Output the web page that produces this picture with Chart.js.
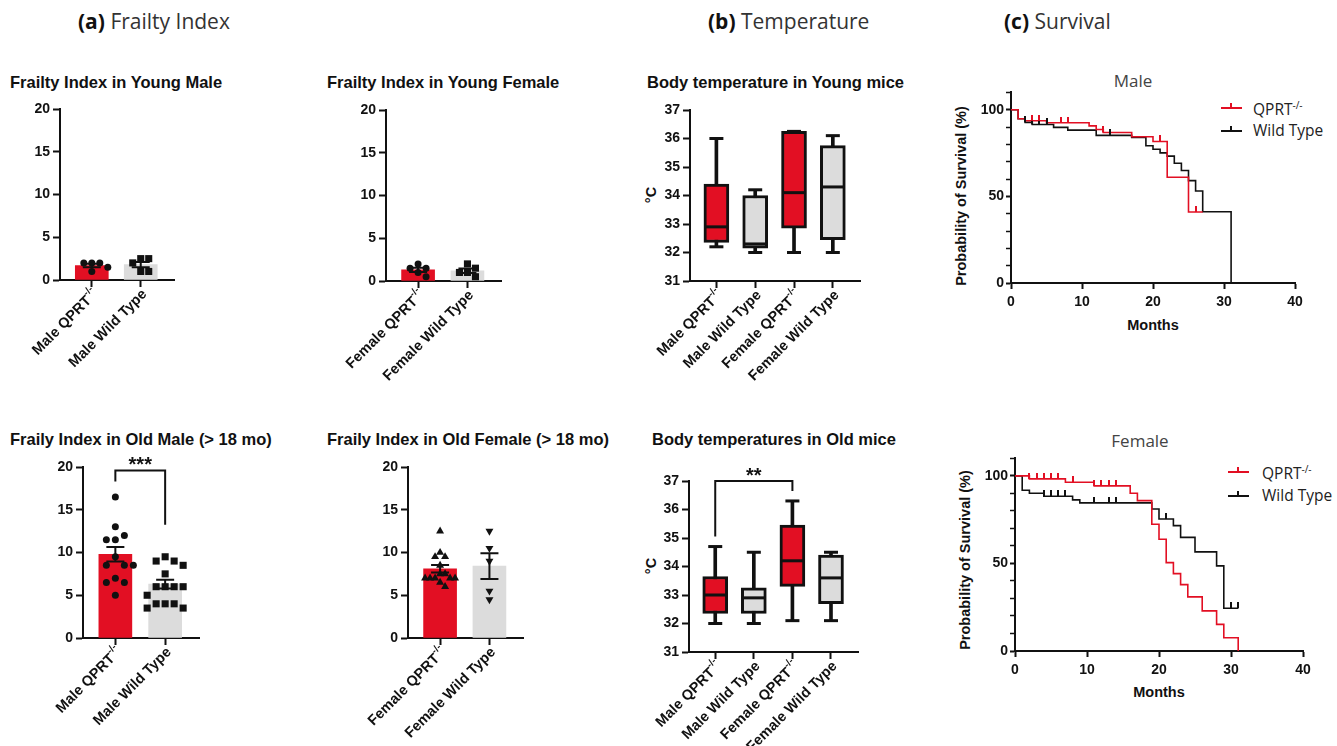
<!DOCTYPE html>
<html>
<head>
<meta charset="utf-8">
<script src="https://cdn.jsdelivr.net/npm/chart.js@4.4.1/dist/chart.umd.min.js"></script>
<style>
  body { margin: 0; background: #fff; }
  #page { position: relative; width: 1337px; height: 746px; overflow: hidden;
          font-family: "Liberation Sans", Arial, sans-serif; color: #111; }
  .abs { position: absolute; white-space: nowrap; line-height: 1; }
  .panel { font-family: "Open Sans", sans-serif; font-size: 21px; color: #333; }
  .panel b { color: #111; }
  .ttl { font-weight: bold; font-size: 16.5px; }
  .stitle { font-family: "Open Sans", sans-serif; font-size: 17px; color: #444; transform: translateX(-50%); }
  .axt { font-weight: bold; font-size: 14.5px; transform: translate(-50%, -50%); }
  .rot { transform: translate(-50%, -50%) rotate(-90deg); }
  .leg { font-family: "Open Sans", sans-serif; font-size: 15.5px; color: #222; }
  .leg sup { font-size: 10px; vertical-align: 6px; }
  .lline { position: absolute; height: 2px; width: 21px; }
  .ltick { position: absolute; width: 2px; height: 5px; }
  canvas { position: absolute; }
</style>
</head>
<body>
<div id="page">
  <div class="abs panel" style="left:78px;top:11px"><b>(a)</b> Frailty Index</div>
  <div class="abs panel" style="left:708px;top:11px"><b>(b)</b> Temperature</div>
  <div class="abs panel" style="left:1004px;top:11px"><b>(c)</b> Survival</div>

  <div class="abs ttl" style="left:10px;top:74px">Frailty Index in Young Male</div>
  <div class="abs ttl" style="left:327px;top:74px">Frailty Index in Young Female</div>
  <div class="abs ttl" style="left:647px;top:74px">Body temperature in Young mice</div>
  <div class="abs ttl" style="left:10px;top:431px">Fraily Index in Old Male (&gt; 18 mo)</div>
  <div class="abs ttl" style="left:327px;top:431px">Fraily Index in Old Female (&gt; 18 mo)</div>
  <div class="abs ttl" style="left:652px;top:431px">Body temperatures in Old mice</div>

  <div class="abs axt rot" style="left:651px;top:195px">°C</div>
  <div class="abs axt rot" style="left:651px;top:566px">°C</div>

  <div class="abs stitle" style="left:1133px;top:72px">Male</div>
  <div class="abs stitle" style="left:1140px;top:432px">Female</div>
  <div class="abs axt rot" style="left:961px;top:196px">Probability of Survival (%)</div>
  <div class="abs axt rot" style="left:965px;top:560px">Probability of Survival (%)</div>
  <div class="abs axt" style="left:1153px;top:325px">Months</div>
  <div class="abs axt" style="left:1159px;top:692px">Months</div>

  <div class="lline" style="left:1221px;top:107px;background:#e20f23"></div>
  <div class="ltick" style="left:1230px;top:103px;background:#e20f23"></div>
  <div class="abs leg" style="left:1253px;top:100px">QPRT<sup>-/-</sup></div>
  <div class="lline" style="left:1221px;top:130px;background:#111"></div>
  <div class="ltick" style="left:1230px;top:126px;background:#111"></div>
  <div class="abs leg" style="left:1253px;top:123px">Wild Type</div>

  <div class="lline" style="left:1228px;top:471px;background:#e20f23"></div>
  <div class="ltick" style="left:1237px;top:467px;background:#e20f23"></div>
  <div class="abs leg" style="left:1262px;top:464px">QPRT<sup>-/-</sup></div>
  <div class="lline" style="left:1228px;top:495px;background:#111"></div>
  <div class="ltick" style="left:1237px;top:491px;background:#111"></div>
  <div class="abs leg" style="left:1262px;top:488px">Wild Type</div>
</div>

<script>
// ---------- data ----------
const maleGroups = ['Male QPRT-/-', 'Male Wild Type'];
const femaleGroups = ['Female QPRT-/-', 'Female Wild Type'];
const tempGroups = ['Male QPRT-/-', 'Male Wild Type', 'Female QPRT-/-', 'Female Wild Type'];

// frailty index, individual mice + bar mean / SEM
const youngMaleKO = [2, 2, 2, 1.5, 1];
const youngMaleWT = [2.5, 2.5, 2, 1, 1];
const youngMaleMean = [1.7, 1.8];
const youngMaleSem = [0.2, 0.3];

const youngFemaleKO = [2, 1.5, 1.5, 1, 0.5];
const youngFemaleWT = [2, 1.5, 1, 1, 0.5];
const youngFemaleMean = [1.3, 1.2];
const youngFemaleSem = [0.25, 0.25];

const oldMaleKO = [16.5, 13, 12, 11.5, 11.5, 9.5, 8.5, 8.5, 8.5, 7, 6.5, 6.5, 5];
const oldMaleWT = [9.5, 9, 9, 8.5, 7.5, 6, 6, 6, 6, 5, 4, 4, 4, 3.5, 3.5];
const oldMaleMean = [9.8, 6.3];
const oldMaleSem = [0.85, 0.5];

const oldFemaleKO = [12.5, 10, 9.5, 9.5, 8.5, 7.5, 7.5, 7, 7, 7, 7, 7, 6.5, 6];
const oldFemaleWT = [12.5, 10.5, 9, 5.5, 4.5];
const oldFemaleMean = [8.1, 8.4];
const oldFemaleSem = [0.45, 1.5];

// body temperature box plots (°C)
const youngMin = [32.2, 32.0, 32.0, 32.0];
const youngQ1  = [32.35, 32.15, 32.85, 32.45];
const youngMed = [32.9, 32.3, 34.1, 34.3];
const youngQ3  = [34.4, 34.0, 36.25, 35.75];
const youngMax = [36.0, 34.2, 36.25, 36.1];

const oldMin = [32.0, 32.0, 32.1, 32.1];
const oldQ1  = [32.35, 32.35, 33.3, 32.7];
const oldMed = [33.0, 32.9, 34.2, 33.6];
const oldQ3  = [33.65, 33.25, 35.45, 34.4];
const oldMax = [34.7, 34.5, 36.3, 34.5];

// Kaplan-Meier curves (months, % surviving from that month on)
const maleKOTime = [0, 1, 2, 5, 11, 12, 13, 17, 20, 22, 25, 27];
const maleKOSurv = [100, 94.8, 93.6, 92.5, 90.7, 88.6, 86.9, 84.4, 81.7, 61, 41, 41];
const maleWTTime = [0, 1, 2, 3, 6, 8, 12, 17, 19, 20, 21, 22, 23, 24, 25, 26, 27, 31];
const maleWTSurv = [100, 94.8, 92.7, 91.5, 89.8, 88.2, 85.2, 84, 79.2, 77.2, 75.1, 73.2, 69.1, 64.9, 59.1, 53.1, 41.1, 0];
const maleKOCens = [3, 4, 7, 8, 13, 21, 26];
const maleWTCens = [2, 3, 4, 5, 14];

const femKOTime = [0, 2, 7, 11, 16, 17, 19, 20, 21, 22, 23, 24, 26, 28, 29, 31];
const femKOSurv = [100, 98.3, 96.4, 94.3, 90.1, 85.9, 72.4, 63.8, 50.5, 44.2, 37.9, 30.9, 22.9, 15.2, 7.6, 0];
const femWTTime = [0, 1, 2, 4, 8, 9, 19, 20, 22, 23, 25, 28, 29, 31];
const femWTSurv = [100, 91.8, 90.1, 88.4, 86.3, 84.6, 81.1, 75.4, 71.6, 64.9, 56.6, 48.6, 24.4, 24.4];
const femKOCens = [2, 3, 4, 5, 6, 8, 11, 12, 13, 14];
const femWTCens = [4, 5, 6, 7, 11, 13, 14, 21, 30, 31];

// ---------- style ----------
const RED = '#e20f23';
const GRAY = '#dcdcdc';
const INK = '#111';
Chart.defaults.font.family = '"Liberation Sans", Arial, sans-serif';
Chart.defaults.color = INK;

const page = document.getElementById('page');

// canvas placed so that the chart area lands on the given page box
function place(area, m) {
  const cv = document.createElement('canvas');
  cv.width = area.r - area.l + m.yW + m.right;
  cv.height = area.b - area.t + m.top + m.xH;
  cv.style.left = (area.l - m.yW) + 'px';
  cv.style.top = (area.t - m.top) + 'px';
  page.appendChild(cv);
  return cv;
}

// simple beeswarm so dots with similar values sit side by side
function swarm(vals, cx, pxX, pxY, step) {
  const diam = step;
  const placed = [];
  vals.slice().sort((a, b) => b - a).forEach(v => {
    for (let k = 0; k < 40; k++) {
      const off = (k % 2 ? 1 : -1) * Math.ceil(k / 2) * step;
      const hit = placed.some(p => Math.hypot(p.o - off, (p.v - v) * pxY) < diam);
      if (!hit) { placed.push({o: off, v: v}); break; }
    }
  });
  return placed.map(p => ({x: cx + p.o / pxX, y: p.v}));
}

// rotated category labels with a superscript "-/-"
const xLabels = {
  id: 'xlabels',
  afterDraw(chart, args, opts) {
    if (!opts.labels) return;
    const ctx = chart.ctx, xs = chart.scales.x, bottom = chart.chartArea.bottom;
    ctx.save();
    ctx.fillStyle = INK;
    opts.labels.forEach((lab, i) => {
      let text = lab, sup = '';
      if (lab.endsWith('-/-')) { text = lab.slice(0, -3); sup = '-/-'; }
      ctx.save();
      ctx.translate(xs.getPixelForValue(i + 1) + 4, bottom + 12);
      ctx.rotate(-Math.PI / 4);
      ctx.textAlign = 'right';
      ctx.textBaseline = 'middle';
      let off = 0;
      if (sup) {
        ctx.font = 'bold 10px "Liberation Sans"';
        ctx.fillText(sup, 0, -6);
        off = ctx.measureText(sup).width;
      }
      ctx.font = 'bold 14.5px "Liberation Sans"';
      ctx.fillText(text, -off, 0);
      ctx.restore();
    });
    ctx.restore();
  }
};

// mean +/- SEM whiskers
const errBars = {
  id: 'errbars',
  afterDatasetsDraw(chart, args, opts) {
    if (!opts.mean) return;
    const ctx = chart.ctx, xs = chart.scales.x, ys = chart.scales.y;
    ctx.save();
    ctx.strokeStyle = INK;
    ctx.lineWidth = 2;
    opts.mean.forEach((m, i) => {
      const x = xs.getPixelForValue(i + 1);
      const hi = ys.getPixelForValue(m + opts.sem[i]);
      const lo = ys.getPixelForValue(m - opts.sem[i]);
      ctx.beginPath();
      ctx.moveTo(x, lo); ctx.lineTo(x, hi);
      ctx.moveTo(x - 9, hi); ctx.lineTo(x + 9, hi);
      ctx.moveTo(x - 9, lo); ctx.lineTo(x + 9, lo);
      ctx.stroke();
    });
    ctx.restore();
  }
};

// significance bracket with stars
const bracket = {
  id: 'bracket',
  afterDraw(chart, args, o) {
    if (!o.text) return;
    const ctx = chart.ctx, xs = chart.scales.x, ys = chart.scales.y;
    const x1 = xs.getPixelForValue(o.from), x2 = xs.getPixelForValue(o.to);
    const yt = ys.getPixelForValue(o.top);
    ctx.save();
    ctx.strokeStyle = INK;
    ctx.lineWidth = 2;
    ctx.beginPath();
    ctx.moveTo(x1, ys.getPixelForValue(o.left));
    ctx.lineTo(x1, yt);
    ctx.lineTo(x2, yt);
    ctx.lineTo(x2, ys.getPixelForValue(o.right));
    ctx.stroke();
    ctx.fillStyle = INK;
    ctx.font = 'bold 20px "Liberation Sans"';
    ctx.textAlign = 'center';
    ctx.fillText(o.text, (x1 + x2) / 2, yt + 1);
    ctx.restore();
  }
};

function axisLook() {
  return {
    border: {display: true, color: INK, width: 2},
    grid: {display: true, drawOnChartArea: false, drawTicks: true, tickLength: 7,
           tickColor: INK, tickWidth: 2, offset: false}
  };
}

function groupOpts(o) {
  const x = axisLook(), y = axisLook();
  Object.assign(x, {
    type: 'linear', min: o.xmin, max: o.xmax, offset: false,
    afterBuildTicks: s => { s.ticks = o.ticksX.map(v => ({value: v})); },
    afterFit: s => { s.height = o.m.xH; },
    ticks: {display: false}
  });
  Object.assign(y, {
    type: 'linear', min: o.ymin, max: o.ymax,
    afterFit: s => { s.width = o.m.yW; },
    ticks: {stepSize: o.step, padding: 3, color: INK, autoSkip: false, font: {size: 14, weight: 'bold'}}
  });
  return {
    responsive: false, animation: false, events: [],
    layout: {padding: {top: o.m.top, right: o.m.right, left: 0, bottom: 0}},
    plugins: {
      legend: {display: false}, tooltip: {enabled: false},
      xlabels: {labels: o.labels},
      errbars: o.err || {},
      bracket: o.sig || {}
    },
    scales: {x: x, y: y}
  };
}

const M_BAR = {yW: 60, top: 28, right: 12, xH: 120};

function frailty(area, groups, ko, wt, mean, sem, koMark, wtMark, step, sig) {
  const cv = place(area, M_BAR);
  const pxX = (area.r - area.l) / (2.68 - 0.35), pxY = (area.b - area.t) / 20;
  const dots = (vals, cx, mk) => ({
    type: 'scatter', data: swarm(vals, cx, pxX, pxY, step), order: 1,
    pointStyle: mk.style, pointRotation: mk.rot || 0, pointRadius: mk.r,
    pointBackgroundColor: INK, pointBorderColor: INK, pointBorderWidth: 0
  });
  new Chart(cv, {
    type: 'bar',
    data: {datasets: [
      {data: mean.map((m, i) => ({x: i + 1, y: m})), backgroundColor: [RED, GRAY],
       barThickness: 33, grouped: false, order: 3},
      dots(ko, 1, koMark),
      dots(wt, 2, wtMark)
    ]},
    options: groupOpts({m: M_BAR, xmin: 0.35, xmax: 2.68, ticksX: [1, 2], ymin: 0, ymax: 20, step: 5,
                        labels: groups, err: {mean: mean, sem: sem}, sig: sig}),
    plugins: [xLabels, errBars, bracket]
  });
}

function boxes(area, mn, q1, med, q3, mx, sig) {
  const cv = place(area, M_BAR);
  const at = arr => arr.map((v, i) => ({x: i + 1, y: v}));
  const span = (a, b) => a.map((v, i) => ({x: i + 1, y: [v, b[i]]}));
  const lineMark = r => ({pointStyle: 'line', pointRadius: r, pointBorderWidth: 3, pointBorderColor: INK});
  new Chart(cv, {
    type: 'bar',
    data: {datasets: [
      {data: span(mn, mx), backgroundColor: INK, barThickness: 3, grouped: false, order: 4},
      {data: span(q1, q3), backgroundColor: [RED, GRAY, RED, GRAY], borderColor: INK, borderWidth: 3,
       borderSkipped: false, barThickness: 25, grouped: false, order: 3},
      Object.assign({type: 'scatter', data: at(mn).concat(at(mx)), order: 2}, lineMark(7)),
      Object.assign({type: 'scatter', data: at(med), order: 1}, lineMark(11))
    ]},
    options: groupOpts({m: M_BAR, xmin: 0.32, xmax: 4.7, ticksX: [1, 2, 3, 4], ymin: 31, ymax: 37, step: 1,
                        labels: tempGroups, sig: sig}),
    plugins: [xLabels, bracket]
  });
}

// Kaplan-Meier helpers
function km(times, surv) { return times.map((t, i) => ({x: t, y: surv[i]})); }
function survAt(times, surv, t) {
  let s = surv[0];
  times.forEach((tt, i) => { if (tt <= t) s = surv[i]; });
  return s;
}
function tickImg(color) {
  const c = document.createElement('canvas');
  c.width = 2; c.height = 12;
  const g = c.getContext('2d');
  g.fillStyle = color;
  g.fillRect(0, 0, 2, 6);
  return c;
}

const M_SURV = {yW: 50, top: 10, right: 16, xH: 32};

function survival(area, koT, koS, wtT, wtS, koC, wtC) {
  const cv = place(area, M_SURV);
  const x = axisLook(), y = axisLook();
  Object.assign(x, {
    type: 'linear', min: 0, max: 40,
    afterFit: s => { s.height = M_SURV.xH; },
    ticks: {stepSize: 10, padding: 5, color: INK, autoSkip: false, font: {size: 14, weight: 'bold'}}
  });
  x.grid.tickLength = 6;
  Object.assign(y, {
    type: 'linear', min: 0, max: 110,
    afterFit: s => { s.width = M_SURV.yW; },
    ticks: {stepSize: 10, padding: 2, color: INK, autoSkip: false, font: {size: 14, weight: 'bold'},
            callback: v => (v % 50 === 0 ? v : '')}
  });
  y.grid.tickLength = 5;
  y.grid.tickWidth = c => (c.tick && c.tick.value % 50 === 0 ? 2 : 1.5);
  const cens = (ts, T, S, color) => ({
    type: 'scatter', data: ts.map(t => ({x: t, y: survAt(T, S, t)})), order: 0,
    pointStyle: tickImg(color), pointRadius: 3
  });
  new Chart(cv, {
    type: 'line',
    data: {datasets: [
      {data: km(koT, koS), stepped: 'before', borderColor: RED, borderWidth: 1.6, pointRadius: 0, order: 1},
      {data: km(wtT, wtS), stepped: 'before', borderColor: INK, borderWidth: 1.6, pointRadius: 0, order: 2},
      cens(koC, koT, koS, RED),
      cens(wtC, wtT, wtS, INK)
    ]},
    options: {
      responsive: false, animation: false, events: [],
      layout: {padding: {top: M_SURV.top, right: M_SURV.right, left: 0, bottom: 0}},
      plugins: {legend: {display: false}, tooltip: {enabled: false}},
      scales: {x: x, y: y}
    }
  });
}

// ---------- charts ----------
const circle = {style: 'circle', r: 3.5};
const square = {style: 'rect', r: 5};
const triUp = {style: 'triangle', r: 4.6};
const triDown = {style: 'triangle', r: 4.6, rot: 180};

frailty({l: 60, r: 174, t: 109, b: 280}, maleGroups, youngMaleKO, youngMaleWT, youngMaleMean, youngMaleSem, circle, square, 8);
frailty({l: 386, r: 501, t: 110, b: 281}, femaleGroups, youngFemaleKO, youngFemaleWT, youngFemaleMean, youngFemaleSem, circle, square, 8);
frailty({l: 83, r: 199, t: 467, b: 638}, maleGroups, oldMaleKO, oldMaleWT, oldMaleMean, oldMaleSem, circle, square, 9,
        {from: 1, to: 2, top: 19.6, left: 18.3, right: 13.25, text: '***'});
frailty({l: 408, r: 523, t: 467, b: 638}, femaleGroups, oldFemaleKO, oldFemaleWT, oldFemaleMean, oldFemaleSem, triUp, triDown, 5);

boxes({l: 690, r: 862, t: 110, b: 281}, youngMin, youngQ1, youngMed, youngQ3, youngMax);
boxes({l: 689, r: 860, t: 481, b: 652}, oldMin, oldQ1, oldMed, oldQ3, oldMax,
      {from: 1, to: 3, top: 37, left: 35.05, right: 36.65, text: '**'});

survival({l: 1011, r: 1295, t: 92, b: 283}, maleKOTime, maleKOSurv, maleWTTime, maleWTSurv, maleKOCens, maleWTCens);
survival({l: 1015, r: 1303, t: 458, b: 651}, femKOTime, femKOSurv, femWTTime, femWTSurv, femKOCens, femWTCens);
</script>
</body>
</html>
